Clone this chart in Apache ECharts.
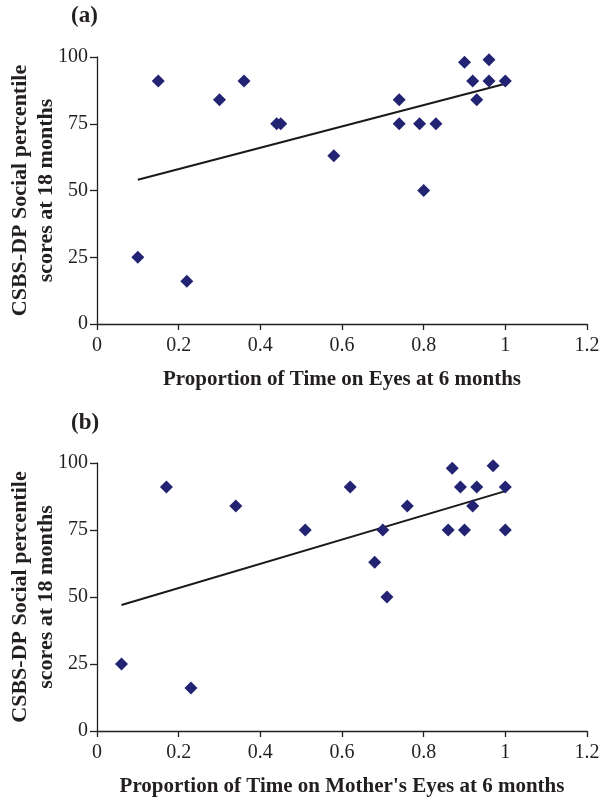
<!DOCTYPE html>
<html><head><meta charset="utf-8">
<script src="https://cdn.jsdelivr.net/npm/echarts@6/dist/echarts.min.js"></script>
<style>html,body{margin:0;padding:0;background:#fff}#c{width:601px;height:800px}</style>
</head><body><div id="c"></div>
<script>
// Panel (a): Proportion of Time on Eyes at 6 months
const aX = [0.10,0.15,0.22,0.30,0.36,0.44,0.45,0.58,0.74,0.74,0.79,0.80,0.83,0.90,0.92,0.93,0.96,0.96,1.00];
const aY = [25,  91,  16,  84,  91,  75,  75,  63,  84,  75,  75,  50,  75,  98,  91,  84,  99,  91,  91];
const aTrendX = [0.10, 1.00];
const aTrendY = [54, 90];
// Panel (b): Proportion of Time on Mother's Eyes at 6 months
const bX = [0.06,0.17,0.23,0.34,0.51,0.62,0.68,0.70,0.71,0.76,0.86,0.87,0.89,0.90,0.92,0.93,0.97,1.00,1.00];
const bY = [25,  91,  16,  84,  75,  91,  63,  75,  50,  84,  75,  98,  91,  75,  84,  91,  99,  91,  75];
const bTrendX = [0.06, 1.00];
const bTrendY = [47, 89.5];
const xTicks = [0,0.2,0.4,0.6,0.8,1,1.2];
const yTicks = [0,25,50,75,100];
const yTitle = 'CSBS-DP Social percentile\nscores at 18 months';
const xTitleA = 'Proportion of Time on Eyes at 6 months';
const xTitleB = "Proportion of Time on Mother's Eyes at 6 months";

const FONT = '"Liberation Serif", "Times New Roman", serif';
const INK = '#231f20';
const pair = (xs, ys) => xs.map((x, i) => [x, ys[i]]);

function xAxis(gi, name) {
  return {
    gridIndex: gi, type: 'value', min: xTicks[0], max: xTicks[xTicks.length - 1], interval: 0.2,
    name: name, nameLocation: 'middle', nameGap: 45, nameMoveOverlap: false,
    nameTextStyle: {fontFamily: FONT, fontWeight: 'bold', fontSize: 21, color: INK},
    axisLine: {lineStyle: {color: INK, width: 1.3}},
    axisTick: {show: true, length: 6, lineStyle: {color: INK, width: 1.3}},
    axisLabel: {fontFamily: FONT, fontSize: 20, color: INK, margin: 12,
      formatter: v => String(Math.round(v * 10) / 10)},
    splitLine: {show: false}
  };
}
function yAxis(gi) {
  return {
    gridIndex: gi, type: 'value', min: yTicks[0], max: yTicks[yTicks.length - 1], interval: 25,
    name: yTitle, nameLocation: 'middle', nameGap: 38, nameRotate: 90, nameMoveOverlap: false,
    nameTextStyle: {fontFamily: FONT, fontWeight: 'bold', fontSize: 22, color: INK, lineHeight: 26, align: 'center'},
    axisLine: {show: true, lineStyle: {color: INK, width: 1.3}},
    axisTick: {show: true, length: 7, lineStyle: {color: INK, width: 1.3}},
    axisLabel: {fontFamily: FONT, fontSize: 20, color: INK, margin: 9},
    splitLine: {show: false}
  };
}
const marker = {color: '#232373', opacity: 1};
const chart = echarts.init(document.getElementById('c'), null, {renderer: 'canvas'});
chart.setOption({
  animation: false,
  backgroundColor: '#fff',
  title: [
    {text: '(a)', left: 71, top: 5, padding: 0, textStyle: {fontFamily: FONT, fontWeight: 'bold', fontSize: 23, color: INK}},
    {text: '(b)', left: 71, top: 412, padding: 0, textStyle: {fontFamily: FONT, fontWeight: 'bold', fontSize: 23, color: INK}}
  ],
  grid: [
    {left: 97, top: 57, width: 490, height: 267, containLabel: false, outerBoundsMode: 'none'},
    {left: 97, top: 463, width: 490, height: 268, containLabel: false, outerBoundsMode: 'none'}
  ],
  xAxis: [xAxis(0, xTitleA), xAxis(1, xTitleB)],
  yAxis: [yAxis(0), yAxis(1)],
  series: [
    {type: 'line', xAxisIndex: 0, yAxisIndex: 0, data: pair(aTrendX, aTrendY), symbol: 'none',
      lineStyle: {color: '#1a1a1a', width: 2}, z: 1},
    {type: 'scatter', xAxisIndex: 0, yAxisIndex: 0, data: pair(aX, aY), symbol: 'diamond', symbolSize: 13,
      itemStyle: marker, z: 2},
    {type: 'line', xAxisIndex: 1, yAxisIndex: 1, data: pair(bTrendX, bTrendY), symbol: 'none',
      lineStyle: {color: '#1a1a1a', width: 2}, z: 1},
    {type: 'scatter', xAxisIndex: 1, yAxisIndex: 1, data: pair(bX, bY), symbol: 'diamond', symbolSize: 13,
      itemStyle: marker, z: 2}
  ]
});
</script></body></html>
